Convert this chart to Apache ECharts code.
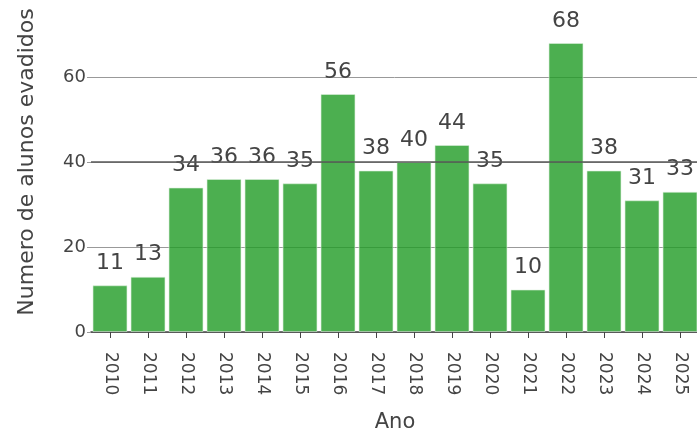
<!DOCTYPE html>
<html>
<head>
<meta charset="utf-8">
<script src="https://cdn.jsdelivr.net/npm/echarts@6/dist/echarts.min.js"></script>
<style>
  html, body { margin: 0; padding: 0; background: #fff; }
  #chart { width: 697px; height: 432px; }
</style>
</head>
<body>
<div id="chart"></div>
<script>
// Students who dropped out, per year
const anos = ['2010', '2011', '2012', '2013', '2014', '2015', '2016', '2017',
              '2018', '2019', '2020', '2021', '2022', '2023', '2024', '2025'];
const evadidos = [11, 13, 34, 36, 36, 35, 56, 38, 40, 44, 35, 10, 68, 38, 31, 33];
const yTicks = [0, 20, 40, 60];
const linhaReferencia = 40;

const FONT = 'DejaVu Sans';
const TXT = '#444';

const chart = echarts.init(document.getElementById('chart'), null, { renderer: 'canvas' });
chart.setOption({
  animation: false,
  textStyle: { fontFamily: FONT },
  grid: { left: 91, width: 608, top: -8, bottom: 100, containLabel: false, outerBoundsMode: 'none' },
  xAxis: {
    type: 'category',
    data: anos,
    name: 'Ano',
    nameLocation: 'middle',
    nameGap: 80,
    nameTextStyle: { fontFamily: FONT, fontSize: 21, color: TXT },
    axisLine: { show: true, lineStyle: { color: '#444', width: 1.5 } },
    axisTick: { show: true, alignWithLabel: true, length: 6, lineStyle: { color: '#444' } },
    axisLabel: { rotate: -90, margin: 20, fontSize: 17, fontFamily: FONT, color: TXT, interval: 0 }
  },
  yAxis: {
    type: 'value',
    min: 0,
    max: 80,
    interval: 20,
    name: 'Numero de alunos evadidos',
    nameLocation: 'middle',
    nameGap: 53,
    nameTextStyle: { fontFamily: FONT, fontSize: 22, color: TXT },
    axisLine: { show: false },
    axisTick: { show: true, length: 4, lineStyle: { color: '#999' } },
    axisLabel: {
      margin: 5, fontSize: 18, fontFamily: FONT, color: TXT,
      formatter: v => (yTicks.indexOf(v) >= 0 ? String(v) : '')
    },
    splitLine: { show: true, lineStyle: { color: '#999', width: 1 } }
  },
  series: [{
    type: 'bar',
    data: evadidos,
    barCategoryGap: '8%',
    itemStyle: {
      color: 'rgba(31,155,36,0.8)',
      borderColor: 'rgba(220,240,220,0.6)',
      borderWidth: 1
    },
    label: {
      show: true,
      position: 'top',
      distance: 11,
      fontSize: 22,
      fontFamily: FONT,
      color: TXT
    },
    markLine: {
      silent: true,
      symbol: 'none',
      label: { show: false },
      lineStyle: { color: 'rgba(90,90,90,0.75)', width: 2, type: 'solid' },
      data: [{ yAxis: linhaReferencia }]
    }
  }]
});
</script>
</body>
</html>
